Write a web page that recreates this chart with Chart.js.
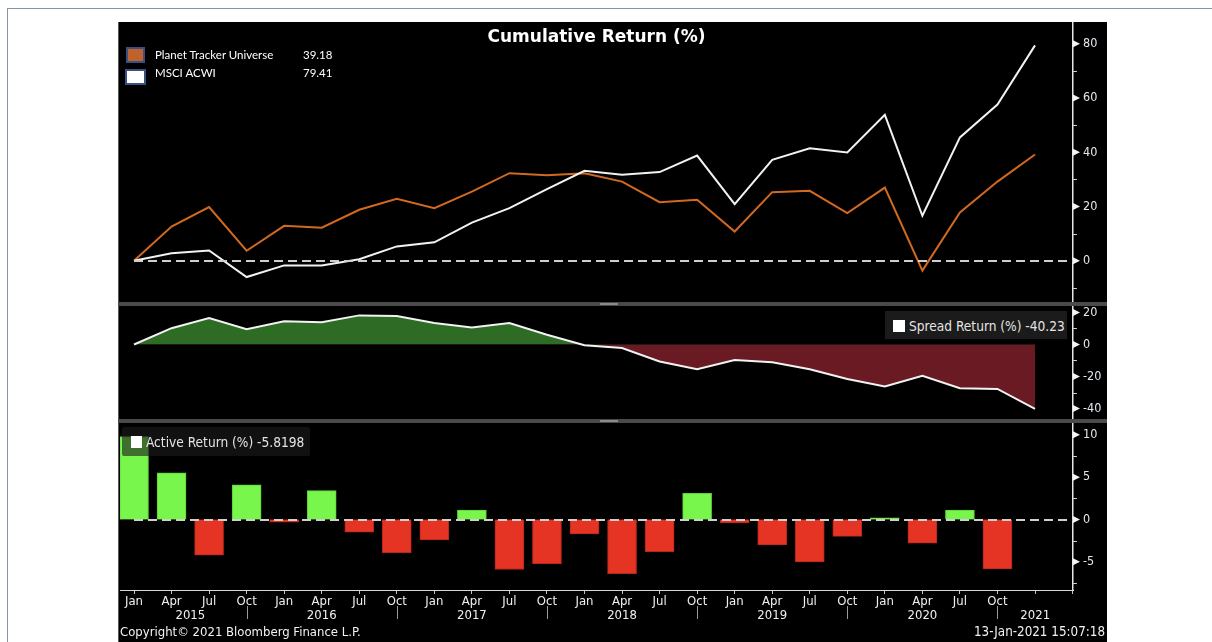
<!DOCTYPE html>
<html>
<head>
<meta charset="utf-8">
<script src="https://cdn.jsdelivr.net/npm/chart.js@4.4.1/dist/chart.umd.min.js"></script>
<style>
html,body{margin:0;padding:0;background:#fff;width:1212px;height:642px;overflow:hidden;}
#frame{position:absolute;left:7px;top:8px;width:1300px;height:700px;border-top:1px solid #8796a3;border-left:1px solid #8796a3;}
#panel{position:absolute;left:118px;top:22px;width:988px;height:620px;background:#000;border-left:1px solid #5a5a5a;}
canvas{position:absolute;}
.sep{position:absolute;left:118px;width:989px;height:4px;background:#4a4a4a;}
.handle{position:absolute;left:600px;width:18px;height:2px;background:#8a8a8a;}
.txt{position:absolute;white-space:nowrap;color:#f2f2f2;font-family:'DejaVu Sans Condensed','DejaVu Sans',sans-serif;font-size:13px;line-height:14px;}
.lg{position:absolute;white-space:nowrap;color:#fff;font-family:Lato,'Open Sans',sans-serif;font-size:11.5px;line-height:14px;}
.sw{position:absolute;box-sizing:border-box;border:2px solid #3a4f82;}
.box{position:absolute;}
</style>
</head>
<body>
<div id="frame"></div>
<div id="panel"></div>
<canvas id="c1" width="989" height="280" style="left:118px;top:22px"></canvas>
<canvas id="c2" width="989" height="113" style="left:118px;top:306px"></canvas>
<canvas id="c3" width="989" height="219" style="left:118px;top:423px"></canvas>
<div class="sep" style="top:302px"></div>
<div class="handle" style="top:303px"></div>
<div class="sep" style="top:419px"></div>
<div class="handle" style="top:420px"></div>

<div class="txt" style="left:120px;width:953px;top:25px;line-height:22px;text-align:center;font-family:'DejaVu Sans',sans-serif;font-weight:bold;font-size:17px;color:#fff">Cumulative Return (%)</div>

<div class="sw" style="left:126px;top:47px;width:19px;height:16px;background:#c0622b"></div>
<div class="lg" style="left:155px;top:48px">Planet Tracker Universe</div>
<div class="lg" style="left:303px;top:48px">39.18</div>
<div class="sw" style="left:125px;top:69px;width:21px;height:16px;background:#fff"></div>
<div class="lg" style="left:155px;top:66px">MSCI ACWI</div>
<div class="lg" style="left:303px;top:66px">79.41</div>

<div class="box" style="left:885px;top:311px;width:182px;height:28px;background:#1b1b1b"></div>
<div class="box" style="left:893px;top:320px;width:12px;height:12px;background:#fff"></div>
<div class="txt" style="left:909px;top:318px;color:#e4e4e4;font-size:13.6px;line-height:16px">Spread Return (%) -40.23</div>

<div class="box" style="left:122px;top:427px;width:188px;height:29px;background:rgba(28,28,28,0.62);border-radius:2px"></div>
<div class="box" style="left:131px;top:436px;width:11px;height:12px;background:#fff"></div>
<div class="txt" style="left:146px;top:434px;color:#e4e4e4;font-size:13.6px;line-height:16px">Active Return (%) -5.8198</div>

<div class="txt" style="left:120px;top:625px">Copyright© 2021 Bloomberg Finance L.P.</div>
<div class="txt" style="right:107px;top:625px;font-size:13.3px">13-Jan-2021 15:07:18</div>

<script>
// ---------- data ----------
const monthTicks = ['Jan','Apr','Jul','Oct','Jan','Apr','Jul','Oct','Jan','Apr','Jul','Oct',
                    'Jan','Apr','Jul','Oct','Jan','Apr','Jul','Oct','Jan','Apr','Jul','Oct',''];
const yearLabels = ['2015','2016','2017','2018','2019','2020','2021'];
const planetTracker = [0, 12.6, 19.8, 3.7, 12.9, 12.2, 18.8, 22.9, 19.4, 25.5, 32.3, 31.5,
                       32.3, 29.2, 21.6, 22.5, 10.8, 25.3, 25.8, 17.6, 27.0, -3.6, 17.8, 29.2, 39.18];
const msciAcwi = [0, 2.8, 3.8, -6.0, -1.7, -1.7, 0.6, 5.3, 6.8, 14.1, 19.4, 26.4,
                  33.2, 31.7, 32.7, 38.8, 20.9, 37.2, 41.5, 39.9, 53.8, 16.6, 45.5, 57.6, 79.41];
const spreadReturn = [0, 10.2, 16.5, 9.5, 14.5, 13.9, 18.2, 17.8, 13.4, 10.6, 13.4, 6.1,
                      -0.5, -2.2, -10.6, -15.5, -9.7, -11.1, -15.5, -21.6, -26.2, -19.6, -27.3, -27.8, -40.23];
const activeReturn = [9.8, 5.5, -4.2, 4.1, -0.3, 3.4, -1.5, -3.9, -2.4, 1.1, -5.9, -5.2,
                      -1.7, -6.4, -3.8, 3.1, -0.4, -3.0, -5.0, -2.0, 0.2, -2.8, 1.1, -5.8198];

// ---------- config ----------
const FONT = "'DejaVu Sans Condensed','DejaVu Sans',sans-serif";
const X_MIN = -0.373, X_MAX = 25.012;
const pts = arr => arr.map((v, i) => ({x: i, y: v}));

function fixScale(w, h) {
  return s => {
    if (w != null) s.width = w;
    if (h != null) s.height = h;
    s.paddingTop = 0; s.paddingBottom = 0; s.paddingLeft = 0; s.paddingRight = 0;
  };
}
const isMajor = (v, m) => Math.abs(v / m - Math.round(v / m)) < 1e-6;

function yScale(min, max, step, major) {
  return {
    type: 'linear', position: 'right', min, max,
    afterFit: fixScale(34, null),
    border: {display: true, color: '#e6e6e6', width: 1.5},
    grid: {display: false, drawTicks: false},
    ticks: {stepSize: step, includeBounds: false, autoSkip: false, padding: 10,
      color: '#e2e8ef', font: {family: FONT, size: 12.5},
      callback: v => isMajor(v, major) ? String(v) : ''}
  };
}
function hiddenX() {
  return {type: 'linear', min: X_MIN, max: X_MAX, offset: false, display: false, afterFit: fixScale(null, 0)};
}

const decor = {
  id: 'decor',
  afterDatasetsDraw(chart, args, opts) {
    if (!opts.zeroLine) return;
    const {ctx, chartArea: a, scales: {x, y}} = chart;
    const yy = Math.round(y.getPixelForValue(0));
    ctx.save();
    ctx.beginPath();
    ctx.setLineDash([9, 5]);
    ctx.strokeStyle = '#cfcfcf';
    ctx.lineWidth = 2;
    ctx.moveTo(x.getPixelForValue(0), yy);
    ctx.lineTo(a.right, yy);
    ctx.stroke();
    ctx.restore();
  },
  afterDraw(chart, args, opts) {
    const {ctx, chartArea: a, scales: {x, y}} = chart;
    const xr = a.right;
    ctx.save();
    y.ticks.forEach(t => {
      const py = y.getPixelForValue(t.value);
      if (isMajor(t.value, opts.major)) {
        ctx.fillStyle = '#f4f4f4';
        ctx.beginPath();
        ctx.moveTo(xr, py - 3.5);
        ctx.lineTo(xr + 7, py);
        ctx.lineTo(xr, py + 3.5);
        ctx.closePath();
        ctx.fill();
      } else {
        ctx.strokeStyle = '#cfcfcf';
        ctx.lineWidth = 1;
        ctx.beginPath();
        ctx.moveTo(xr, Math.round(py) + 0.5);
        ctx.lineTo(xr + 4, Math.round(py) + 0.5);
        ctx.stroke();
      }
    });
    if (opts.years) {
      const seps = [];
      monthTicks.forEach((m, i) => { if (m === 'Oct') seps.push(i); });
      const bounds = [0].concat(seps, [x.max]);
      ctx.fillStyle = '#f0f0f0';
      ctx.font = '13px ' + FONT;
      ctx.textAlign = 'center';
      ctx.textBaseline = 'middle';
      yearLabels.forEach((lab, i) => {
        const cx = x.getPixelForValue((bounds[i] + bounds[i + 1]) / 2);
        ctx.fillText(lab, cx, a.bottom + 26);
      });
      ctx.strokeStyle = '#9a9a9a';
      ctx.lineWidth = 1;
      seps.forEach(s => {
        const px = Math.round(x.getPixelForValue(s)) + 0.5;
        ctx.beginPath();
        ctx.moveTo(px, a.bottom + 16);
        ctx.lineTo(px, a.bottom + 29);
        ctx.stroke();
      });
    }
    ctx.restore();
  }
};

const common = {
  responsive: false, animation: false, devicePixelRatio: 1,
  layout: {padding: {left: 2, right: 0, top: 0, bottom: 0}},
  plugins: {legend: {display: false}, tooltip: {enabled: false}},
  events: []
};

// Top: cumulative return
new Chart(document.getElementById('c1'), {
  type: 'line',
  data: {datasets: [
    {data: pts(msciAcwi), borderColor: '#f2f2f2', borderWidth: 2, pointRadius: 0, tension: 0, clip: 0},
    {data: pts(planetTracker), borderColor: '#d2691f', borderWidth: 2, pointRadius: 0, tension: 0, clip: 0}
  ]},
  options: Object.assign({}, common, {
    scales: {x: hiddenX(), y: yScale(-15.19, 88.04, 10, 20)},
    plugins: Object.assign({}, common.plugins, {decor: {zeroLine: true, major: 20}})
  }),
  plugins: [decor]
});

// Middle: spread return
new Chart(document.getElementById('c2'), {
  type: 'line',
  data: {datasets: [
    {data: pts(spreadReturn), borderColor: '#f2f2f2', borderWidth: 2, pointRadius: 0, tension: 0, clip: 0,
     fill: {target: {value: 0}, above: '#2e6b25', below: '#6a1a23'}}
  ]},
  options: Object.assign({}, common, {
    scales: {x: hiddenX(), y: yScale(-46.56, 24.06, 10, 20)},
    plugins: Object.assign({}, common.plugins, {decor: {zeroLine: false, major: 20}})
  }),
  plugins: [decor]
});

// Bottom: active return bars
new Chart(document.getElementById('c3'), {
  type: 'bar',
  data: {datasets: [
    {data: pts(activeReturn), barThickness: 29, borderWidth: 1, clip: 0,
     backgroundColor: c => (c.raw && c.raw.y >= 0) ? '#78f64c' : '#e63424',
     borderColor: c => (c.raw && c.raw.y >= 0) ? '#5fcf3a' : '#b8261a'}
  ]},
  options: Object.assign({}, common, {
    scales: {
      x: {type: 'linear', min: X_MIN, max: X_MAX, position: 'bottom', offset: false,
        afterFit: fixScale(null, 52),
        border: {display: true, color: '#d8d8d8', width: 1},
        grid: {display: true, offset: false, drawOnChartArea: false, drawTicks: true, tickLength: 4, color: '#c4c4c4', lineWidth: 1},
        ticks: {stepSize: 1, includeBounds: false, autoSkip: false, maxRotation: 0, minRotation: 0, padding: 0,
          color: '#f0f0f0', font: {family: FONT, size: 13},
          callback: v => monthTicks[v] !== undefined ? monthTicks[v] : ''}
      },
      y: yScale(-8.32, 11.39, 2.5, 5)
    },
    plugins: Object.assign({}, common.plugins, {decor: {zeroLine: true, major: 5, years: true}})
  }),
  plugins: [decor]
});
</script>
</body>
</html>
